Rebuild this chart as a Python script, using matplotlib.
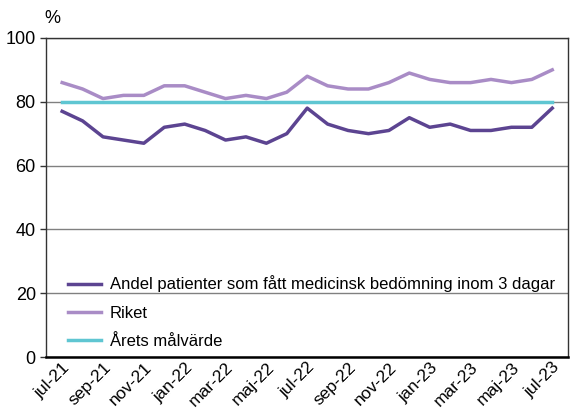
import matplotlib
matplotlib.use("Agg")
import matplotlib.pyplot as plt
import numpy as np

plt.rcParams['font.family'] = ['Liberation Sans', 'DejaVu Sans']

# months jul-21 .. jul-23
months = ['jul-21', 'aug-21', 'sep-21', 'okt-21', 'nov-21', 'dec-21',
          'jan-22', 'feb-22', 'mar-22', 'apr-22', 'maj-22', 'jun-22',
          'jul-22', 'aug-22', 'sep-22', 'okt-22', 'nov-22', 'dec-22',
          'jan-23', 'feb-23', 'mar-23', 'apr-23', 'maj-23', 'jun-23', 'jul-23']
andel = [77, 74, 69, 68, 67, 72, 73, 71, 68, 69, 67, 70,
         78, 73, 71, 70, 71, 75, 72, 73, 71, 71, 72, 72, 78]
riket = [86, 84, 81, 82, 82, 85, 85, 83, 81, 82, 81, 83,
         88, 85, 84, 84, 86, 89, 87, 86, 86, 87, 86, 87, 90]
malvarde = [80] * len(months)

labels = ['Andel patienter som fått medicinsk bedömning inom 3 dagar',
          'Riket', 'Årets målvärde']
colors = ['#5c4491', '#a98cc6', '#5fc6d2']

fig = plt.figure(figsize=(5.78, 4.08), dpi=100)
ax = fig.add_axes([0.080, 0.125, 0.903, 0.782])

x = np.arange(len(months))
ax.plot(x, andel, color=colors[0], lw=2.5, label=labels[0], zorder=3)
ax.plot(x, riket, color=colors[1], lw=2.5, label=labels[1], zorder=3)
ax.plot(x, malvarde, color=colors[2], lw=2.5, label=labels[2], zorder=3)

ax.set_ylim(0, 100)
ax.set_xlim(-0.78, len(months) - 1 + 0.78)
ax.set_yticks([0, 20, 40, 60, 80, 100])
ax.yaxis.grid(True, color='#808080', lw=1)
ax.set_axisbelow(True)
ax.tick_params(axis='y', labelsize=13, length=4, color='#333333', width=1)
ax.tick_params(axis='x', length=0, labelsize=12.5, pad=2)
ax.set_xticks(x[::2])
ax.set_xticklabels(months[::2], rotation=45, ha='right', rotation_mode='anchor')
for s in ax.spines.values():
    s.set_color('#333333')
    s.set_linewidth(1)
ax.spines['bottom'].set_linewidth(1.8)
ax.spines['bottom'].set_color('black')

fig.text(0.090, 0.935, '%', fontsize=13, ha='center', va='bottom')

ax.legend(loc='lower left', frameon=False, fontsize=12, handlelength=2.0,
          labelspacing=0.8, bbox_to_anchor=(0.042, 0.025), borderaxespad=0,
          borderpad=0, handletextpad=0.5)

fig.savefig('out.png', dpi=100)
